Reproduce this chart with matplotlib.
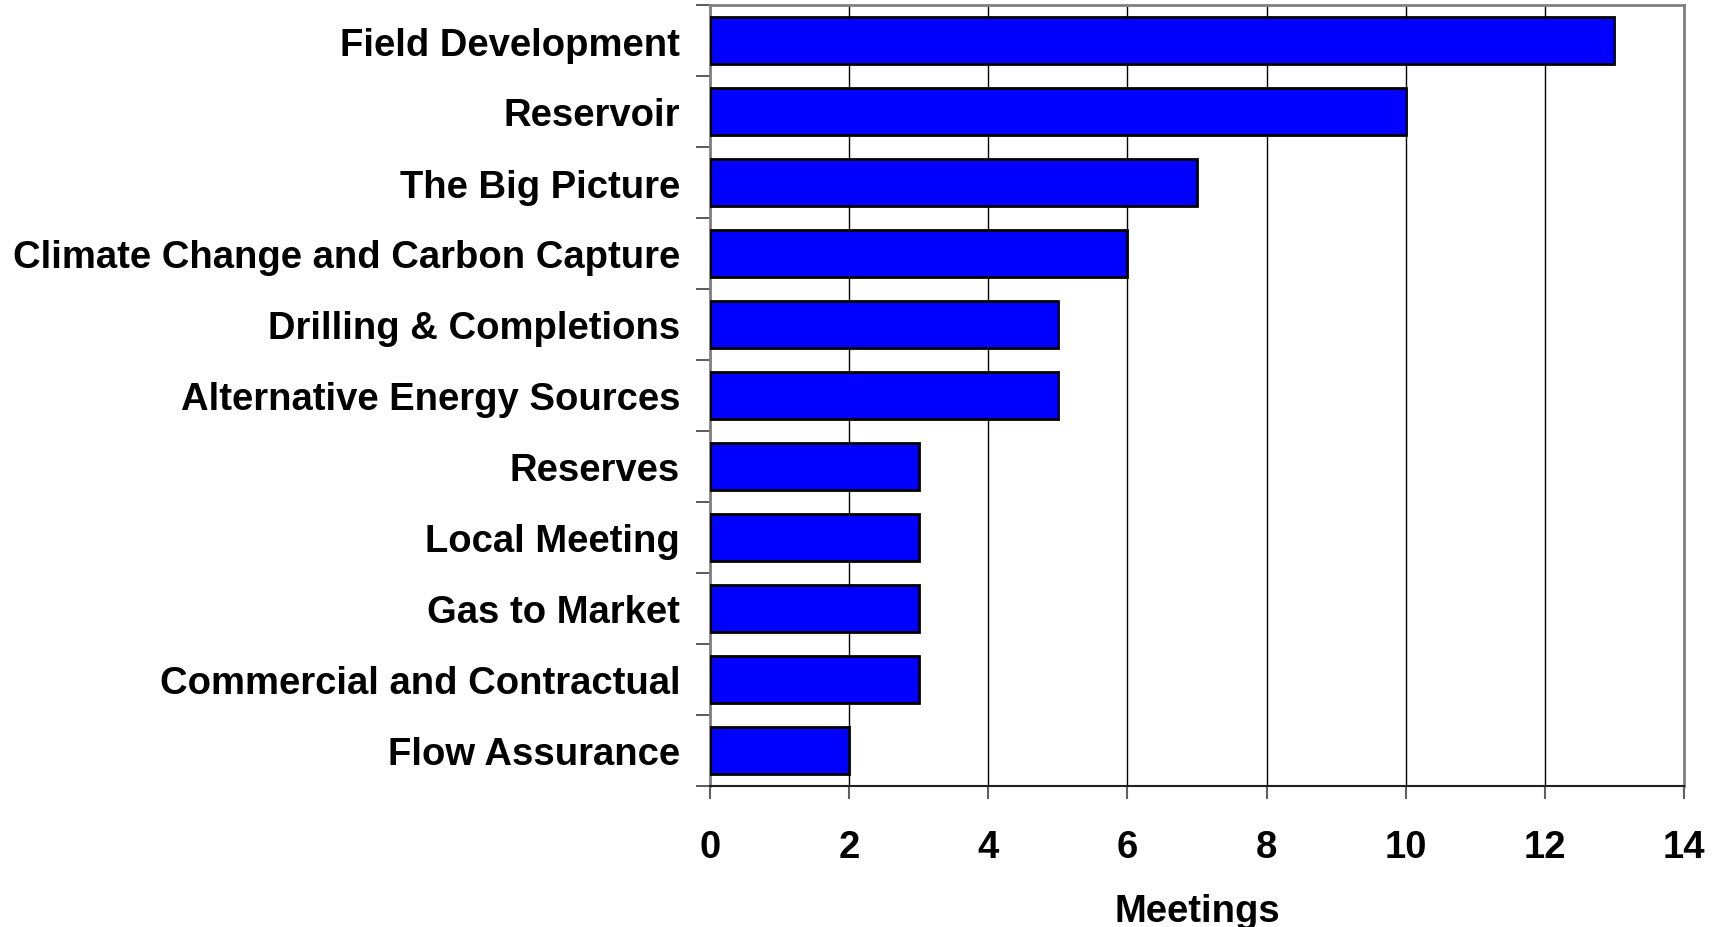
import matplotlib
matplotlib.use("Agg")
import matplotlib.pyplot as plt
import numpy as np

categories = ["Field Development", "Reservoir", "The Big Picture",
              "Climate Change and Carbon Capture", "Drilling & Completions",
              "Alternative Energy Sources", "Reserves", "Local Meeting",
              "Gas to Market", "Commercial and Contractual", "Flow Assurance"]
values = [13, 10, 7, 6, 5, 5, 3, 3, 3, 3, 2]
xticks = [0, 2, 4, 6, 8, 10, 12, 14]
xlabel = "Meetings"

plt.rcParams['font.family'] = ['Liberation Sans', 'DejaVu Sans']
FS = 27.5

fig = plt.figure(figsize=(17.18, 9.28), dpi=100)
ax = fig.add_axes([710/1718, 1-787/928, (1684-710)/1718, (787-6)/928])

n = len(categories)
y = np.arange(n)
ax.barh(y, values, height=0.66, color='#0000FF', edgecolor='black', linewidth=2, zorder=3)
ax.set_ylim(n - 0.5, -0.5)
ax.set_xlim(0, 14)

ax.set_xticks(xticks)
ax.set_xticklabels([str(t) for t in xticks], fontsize=FS, fontweight='bold')
ax.set_yticks(y)
ax.set_yticklabels(categories, fontsize=FS, fontweight='bold')
ax.tick_params(axis='y', which='major', length=0, pad=21.5)
ax.set_yticks(np.arange(-0.5, n, 1), minor=True)
ax.tick_params(axis='y', which='minor', length=10, width=1.2, color='#404040', direction='out')
ax.tick_params(axis='x', which='major', length=9, width=1.5, color='#606060', direction='out', pad=22)

ax.grid(axis='x', color='black', linewidth=1, zorder=0)
ax.set_axisbelow(True)
for s in ['top', 'right', 'left']:
    ax.spines[s].set_color('#808080')
    ax.spines[s].set_linewidth(2)
ax.spines['bottom'].set_color('#202020')
ax.spines['bottom'].set_linewidth(1.5)

ax.set_xlabel(xlabel, fontsize=FS, fontweight='bold', labelpad=20)

fig.savefig("out.png", dpi=100)
